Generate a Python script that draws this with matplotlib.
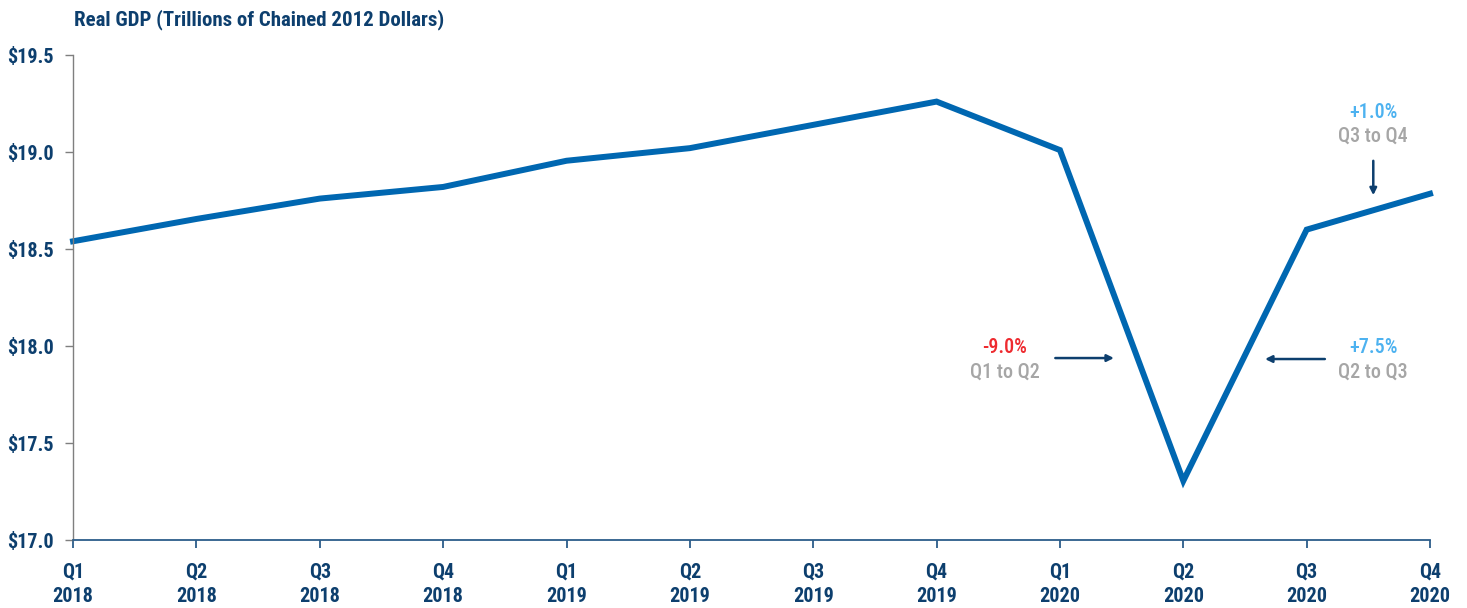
import matplotlib
matplotlib.use("Agg")
import matplotlib.pyplot as plt

# ---------------
#  data
# ---------------
quarters = ["Q1\n2018", "Q2\n2018", "Q3\n2018", "Q4\n2018",
            "Q1\n2019", "Q2\n2019", "Q3\n2019", "Q4\n2019",
            "Q1\n2020", "Q2\n2020", "Q3\n2020", "Q4\n2020"]
gdp = [18.54, 18.655, 18.76, 18.82, 18.955, 19.02, 19.14, 19.26,
       19.01, 17.305, 18.60, 18.785]
yTicks = [17.0, 17.5, 18.0, 18.5, 19.0, 19.5]

navy = "#0D3F6E"
lineBlue = "#0067B1"
red = "#EE2A2F"
lightBlue = "#4DB2F0"
gray = "#A6A6A6"

plt.rcParams["font.family"] = ["Roboto Condensed", "DejaVu Sans"]

fig = plt.figure(figsize=(14.67, 6.08), dpi=100)
ax = fig.add_axes([0.0498, 0.1118, 0.9250, 0.7977])

x = list(range(len(gdp)))
ax.plot(x, gdp, color=lineBlue, linewidth=4.3, solid_joinstyle="miter", clip_on=False)

ax.set_xlim(0, len(gdp) - 1)
ax.set_ylim(17.0, 19.5)
ax.set_xticks(x)
ax.set_xticklabels(quarters, fontsize=14.5, fontweight="bold", color=navy, linespacing=1.4)
ax.set_yticks(yTicks)
ax.set_yticklabels(["$%.1f" % v for v in yTicks], fontsize=14.5, fontweight="bold", color=navy)

for s in ["top", "right"]:
    ax.spines[s].set_visible(False)
ax.spines["left"].set_color("#7F7F7F")
ax.spines["left"].set_linewidth(1.0)
ax.spines["bottom"].set_color("#2C5D8A")
ax.spines["bottom"].set_linewidth(1.3)
ax.tick_params(axis="y", length=6, width=1.0, color="#7F7F7F", pad=8)
ax.tick_params(axis="x", length=6, width=1.3, color="#2C5D8A", pad=10)

fig.text(0.0505, 0.950, "Real GDP (Trillions of Chained 2012 Dollars)",
         fontsize=15, fontweight="bold", color=navy, ha="left", va="bottom")

# annotations
arrowProps = dict(arrowstyle="-|>", color=navy, lw=1.8, mutation_scale=10)
ax.annotate("", xy=(8.46, 17.938), xytext=(7.94, 17.938), arrowprops=arrowProps)
ax.text(7.555, 17.99, "-9.0%", color=red, fontsize=14.5, fontweight="medium", ha="center", va="center")
ax.text(7.555, 17.866, "Q1 to Q2", color=gray, fontsize=14.5, fontweight="medium", ha="center", va="center")

ax.annotate("", xy=(9.64, 17.933), xytext=(10.17, 17.933), arrowprops=arrowProps)
ax.text(10.54, 17.99, "+7.5%", color=lightBlue, fontsize=14.5, fontweight="medium", ha="center", va="center")
ax.text(10.54, 17.866, "Q2 to Q3", color=gray, fontsize=14.5, fontweight="medium", ha="center", va="center")

ax.annotate("", xy=(10.54, 18.763), xytext=(10.54, 18.969), arrowprops=arrowProps)
ax.text(10.54, 19.206, "+1.0%", color=lightBlue, fontsize=14.5, fontweight="medium", ha="center", va="center")
ax.text(10.54, 19.082, "Q3 to Q4", color=gray, fontsize=14.5, fontweight="medium", ha="center", va="center")

fig.savefig("out.png", dpi=100)
